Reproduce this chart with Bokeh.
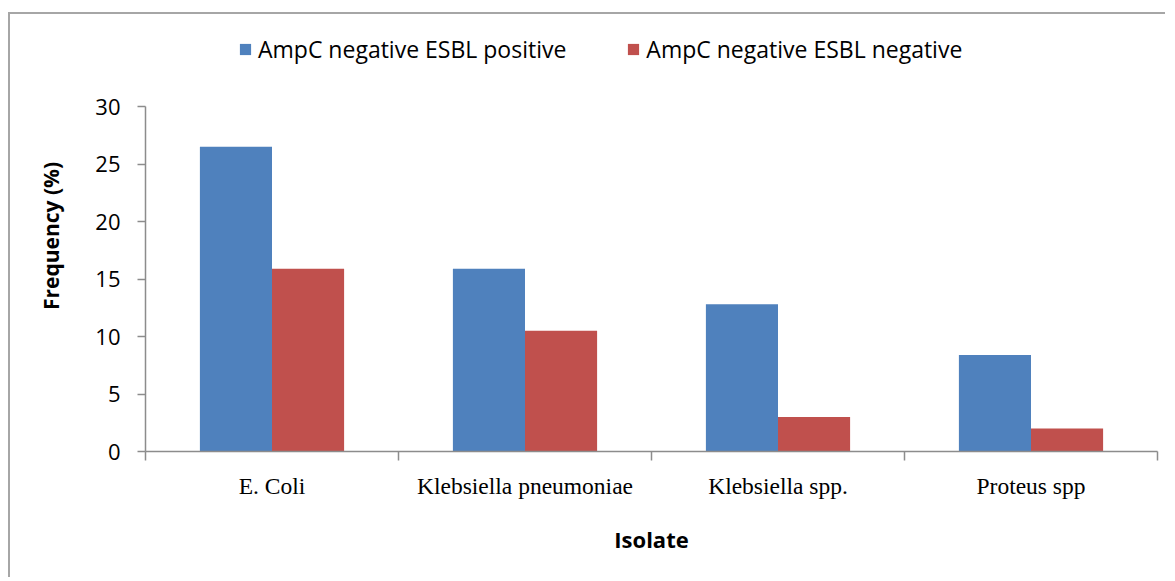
from bokeh.plotting import figure
from bokeh.models import (FactorRange, Range1d, LinearAxis, FixedTicker, Legend,
                          LegendItem, ColumnDataSource)
from bokeh.transform import dodge
from bokeh.embed import file_html
from bokeh.resources import INLINE

categories = ["E. Coli", "Klebsiella pneumoniae", "Klebsiella spp.", "Proteus spp"]
esbl_positive = [26.5, 15.9, 12.8, 8.4]
esbl_negative = [15.9, 10.5, 3.0, 2.0]
series_names = ["AmpC negative ESBL positive", "AmpC negative ESBL negative"]
series_colors = ["#4F81BD", "#C0504D"]
y_ticks = [0, 5, 10, 15, 20, 25, 30]
x_title = "Isolate"
y_title = "Frequency (%)"

src = ColumnDataSource(dict(cat=categories, pos=esbl_positive, neg=esbl_negative))

AXIS_GRAY = "#8c8c8c"
SANS = "Open Sans"

# plot area: the value axis occupies 345 px of a 431 px high frame,
# the space above it holds the legend
FRAME_H = 431
AXIS_H = 345
y_end = y_ticks[-1] * FRAME_H / AXIS_H

p = figure(width=1157, height=565, x_range=FactorRange(factors=categories),
           y_range=Range1d(0, y_end), x_axis_type=None, y_axis_type=None,
           output_backend="svg", toolbar_location=None,
           min_border_left=135, min_border_right=10, min_border_top=6,
           min_border_bottom=128)
p.styles = {"border-left": "2px solid #a6a6a6", "border-top": "2px solid #a6a6a6",
            "margin-top": "12px", "margin-left": "8px"}
p.outline_line_color = None
p.xgrid.visible = False
p.ygrid.visible = False

bar_w = 0.285
r1 = p.vbar(x=dodge("cat", -bar_w / 2, range=p.x_range), top="pos", width=bar_w,
            source=src, fill_color=series_colors[0], line_color=None)
r2 = p.vbar(x=dodge("cat", bar_w / 2, range=p.x_range), top="neg", width=bar_w,
            source=src, fill_color=series_colors[1], line_color=None)

n = len(categories)
xaxis = LinearAxis(ticker=FixedTicker(ticks=[i + 0.5 for i in range(n)],
                                      minor_ticks=list(range(n + 1))),
                   major_label_overrides={i + 0.5: c for i, c in enumerate(categories)})
xaxis.axis_label = x_title
xaxis.axis_label_text_font = SANS
xaxis.axis_label_text_font_style = "bold"
xaxis.axis_label_text_font_size = "22px"
xaxis.axis_label_text_color = "#000000"
xaxis.axis_label_standoff = 22
xaxis.major_label_text_font = "Liberation Serif"
xaxis.major_label_text_font_size = "23.5px"
xaxis.major_label_text_color = "#000000"
xaxis.major_label_standoff = 12
xaxis.major_tick_line_color = None
xaxis.major_tick_out = 0
xaxis.major_tick_in = 0
xaxis.minor_tick_line_color = AXIS_GRAY
xaxis.minor_tick_line_width = 1.5
xaxis.minor_tick_out = 9
xaxis.minor_tick_in = 0
xaxis.axis_line_color = AXIS_GRAY
xaxis.axis_line_width = 1.5
p.add_layout(xaxis, "below")

yaxis = LinearAxis(ticker=FixedTicker(ticks=y_ticks, minor_ticks=[]),
                   bounds=(y_ticks[0], y_ticks[-1]))
yaxis.axis_label = y_title
yaxis.axis_label_text_font = SANS
yaxis.axis_label_text_font_style = "bold"
yaxis.axis_label_text_font_size = "21px"
yaxis.axis_label_text_color = "#000000"
yaxis.axis_label_standoff = 27
yaxis.major_label_text_font = SANS
yaxis.major_label_text_font_size = "22px"
yaxis.major_label_text_color = "#000000"
yaxis.major_label_standoff = 17
yaxis.major_tick_line_color = AXIS_GRAY
yaxis.major_tick_line_width = 1.5
yaxis.major_tick_out = 8
yaxis.major_tick_in = 0
yaxis.axis_line_color = AXIS_GRAY
yaxis.axis_line_width = 1.5
p.add_layout(yaxis, "left")

legend = Legend(items=[LegendItem(label=series_names[0], renderers=[r1]),
                       LegendItem(label=series_names[1], renderers=[r2])],
                orientation="horizontal", location=(93, 386))
legend.padding = 0
legend.margin = 0
legend.spacing = 60
legend.glyph_width = 14
legend.glyph_height = 14
legend.label_standoff = 6
legend.label_text_font = SANS
legend.label_text_font_size = "23px"
legend.label_text_color = "#000000"
legend.border_line_color = None
legend.background_fill_color = None
p.add_layout(legend, "center")

open("out.html", "w").write(file_html(p, INLINE))
